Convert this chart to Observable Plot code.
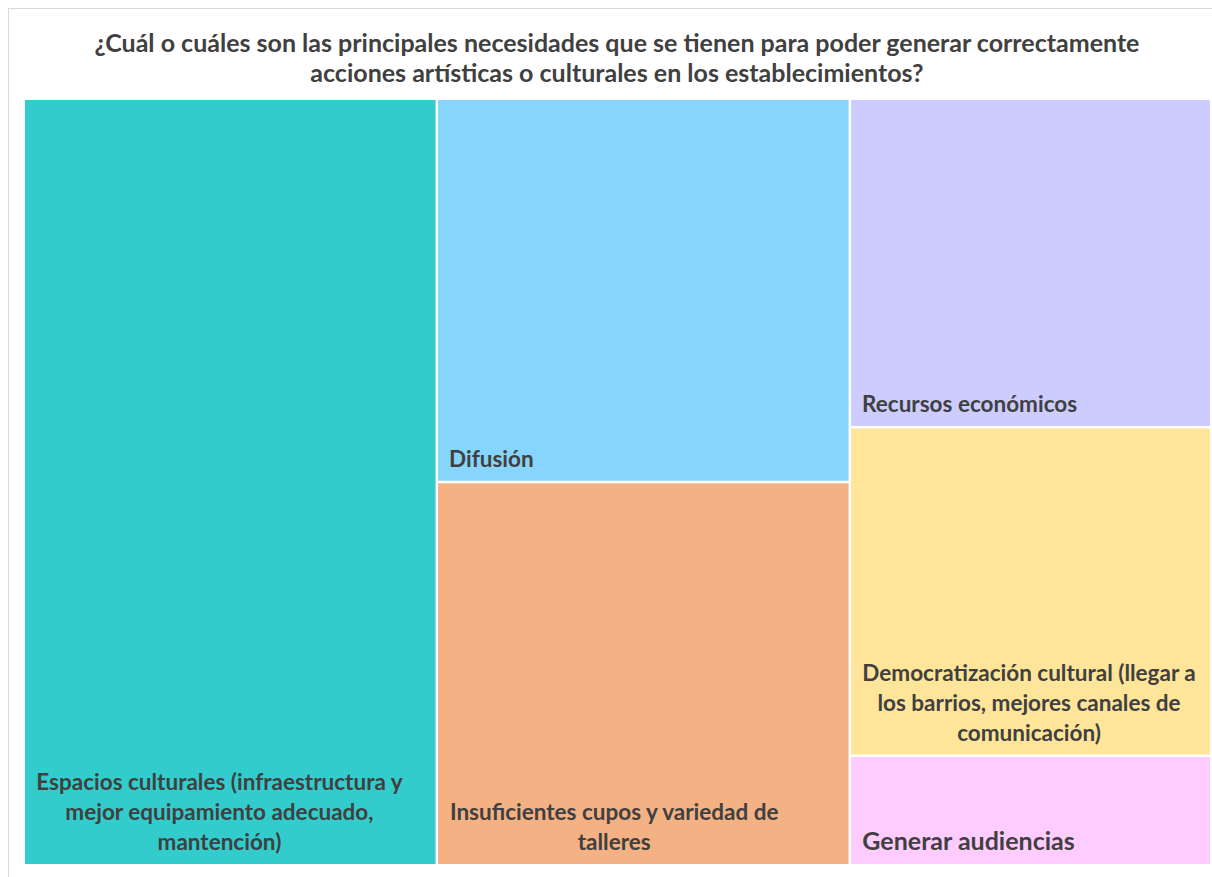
<!DOCTYPE html>
<html>
<head>
<meta charset="utf-8">
<script src="https://cdn.jsdelivr.net/npm/d3@7"></script>
<script src="https://cdn.jsdelivr.net/npm/@observablehq/plot@0.6"></script>
<style>
  html, body { margin: 0; padding: 0; background: #fff; }
  #frame { position: absolute; left: 8px; top: 8px; width: 1220px; height: 900px; border: 1px solid #d9d9d9; box-sizing: border-box; pointer-events: none; }
  #title { height: 92px; box-sizing: border-box; padding-top: 27px; text-align: center; font-family: Lato, "Open Sans", sans-serif; font-weight: bold; font-size: 25px; line-height: 30px; color: #404040; padding-left: 22px; white-space: nowrap; }
  #chart svg { display: block; }
</style>
</head>
<body>
<div id="frame"></div>
<div id="title">¿Cuál o cuáles son las principales necesidades que se tienen para poder generar correctamente<br>acciones artísticas o culturales en los establecimientos?</div>
<div id="chart"></div>
<script>
const categories = [
  "Espacios culturales (infraestructura y\nmejor equipamiento adecuado,\nmantención)",
  "Difusión",
  "Insuficientes cupos y variedad de\ntalleres",
  "Recursos económicos",
  "Democratización cultural (llegar a\nlos barrios, mejores canales de\ncomunicación)",
  "Generar audiencias"
];
const values = [8, 4, 4, 3, 3, 1];
const colors = ["#33CCCC", "#87D5FC", "#F4B183", "#CCCCFF", "#FFE599", "#FFCCFF"];
const labelSizes = [22.5, 22.5, 22.5, 22.5, 22.5, 25];

const W = 1185, H = 764;
const root = d3.hierarchy({children: categories.map((c, i) => ({name: c, value: values[i], color: colors[i], size: labelSizes[i]}))})
  .sum(d => d.value || 0);
d3.treemap().tile(d3.treemapSquarify.ratio(1)).size([W, H]).paddingInner(2.5)(root);

const ctx = document.createElement("canvas").getContext("2d");
const cells = root.leaves().map(l => {
  const lines = l.data.name.split("\n");
  ctx.font = `bold ${l.data.size}px Lato`;
  const bw = d3.max(lines, s => ctx.measureText(s).width);
  return {x0: l.x0, x1: l.x1, y0: l.y0, y1: l.y1, name: l.data.name, color: l.data.color, size: l.data.size, tx: l.x0 + 10.5 + bw / 2, ty: l.y1 - 14.5};
});

const chart = Plot.plot({
  width: 1212,
  height: 785,
  marginLeft: 25,
  marginRight: 2,
  marginTop: 8,
  marginBottom: 13,
  x: {domain: [0, W], axis: null},
  y: {domain: [0, H], axis: null, reverse: true},
  style: {fontFamily: "Lato, 'Open Sans', sans-serif", background: "transparent"},
  marks: [
    Plot.rect(cells, {x1: "x0", x2: "x1", y1: "y0", y2: "y1", fill: "color", inset: 0}),
    Plot.text(cells, {x: "tx", y: "ty", text: "name", fontSize: "size", fontWeight: "bold", fill: "#404040", textAnchor: "middle", lineAnchor: "bottom", lineHeight: 1.33})
  ]
});
document.getElementById("chart").appendChild(chart);
</script>
</body>
</html>
